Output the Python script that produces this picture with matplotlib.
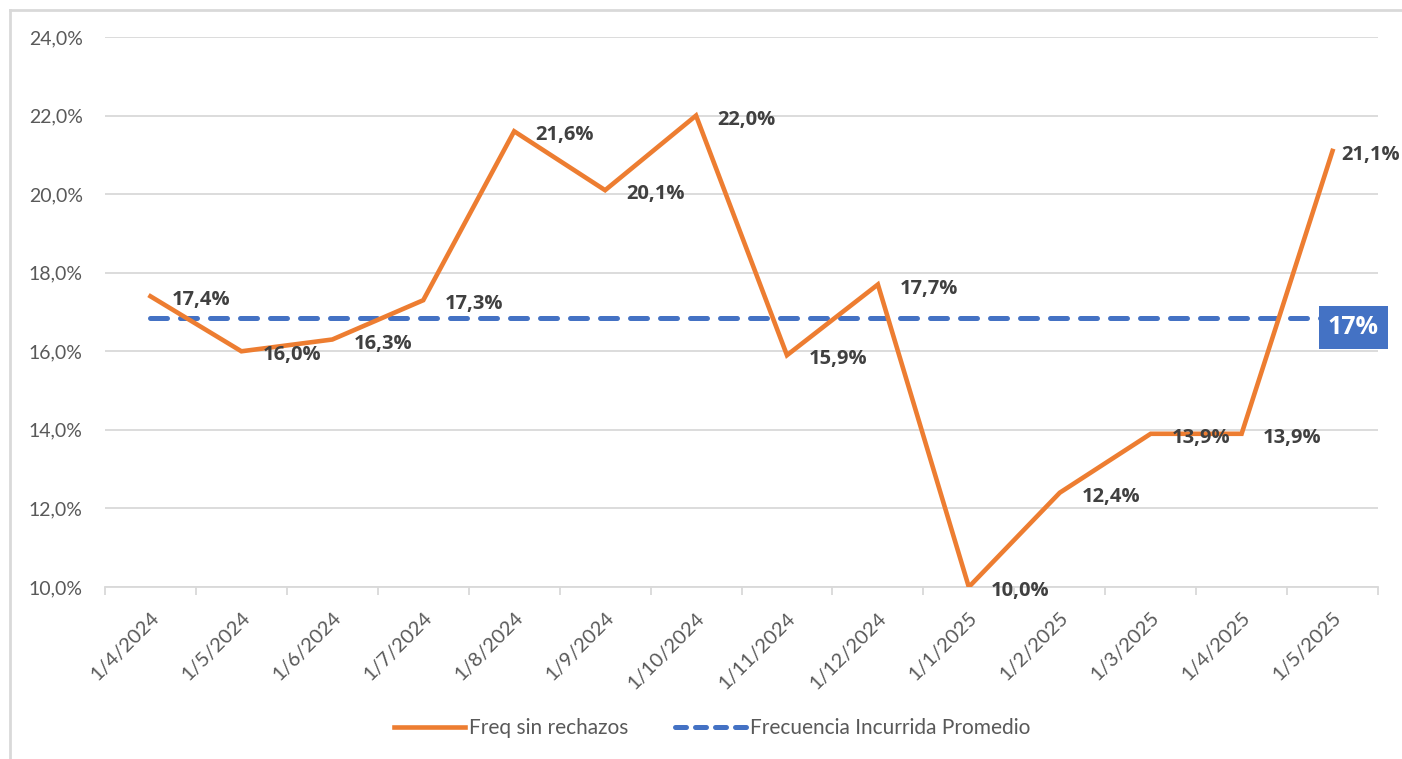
import numpy as np
import matplotlib.pyplot as plt
from matplotlib.lines import Line2D

fechas = ['1/4/2024', '1/5/2024', '1/6/2024', '1/7/2024', '1/8/2024', '1/9/2024',
          '1/10/2024', '1/11/2024', '1/12/2024', '1/1/2025', '1/2/2025', '1/3/2025',
          '1/4/2025', '1/5/2025']
freq = [17.4, 16.0, 16.3, 17.3, 21.6, 20.1, 22.0, 15.9, 17.7, 10.0, 12.4, 13.9, 13.9, 21.1]
promedio = 16.85
promedio_label = '17%'

orange = '#ED7D31'
blue = '#4472C4'
grey = '#595959'

fig = plt.figure(figsize=(14.02, 7.59), dpi=100)
ax = fig.add_axes([105/1402, 1-587/759, (1378-105)/1402, (587-37)/759])

x = np.arange(len(fechas))
ax.plot(x, [promedio]*len(x), color=blue, lw=3.6,
        ls=(0, (3.4, 2.6)), dash_capstyle='round', zorder=3)
ax.plot(x, freq, color=orange, lw=3.3, solid_joinstyle='miter', zorder=4)

for i, (xi, v) in enumerate(zip(x, freq)):
    # excel acerca la última etiqueta para que quepa
    dx = 6 if i == len(x) - 1 else 15.5
    ax.annotate(f'{v:.1f}%'.replace('.', ','), (xi, v), xytext=(dx, -3),
                textcoords='offset points', ha='left', va='center',
                fontsize=14.5, fontweight='bold', color='#404040',
                family='Open Sans', zorder=5)

ax.annotate(promedio_label, (x[-1], promedio), xytext=(15, -7),
            textcoords='offset points', ha='center', va='center',
            fontsize=18, fontweight='bold', color='white', family='Open Sans',
            bbox=dict(boxstyle='square,pad=0.36', fc=blue, ec='none'), zorder=6)

ax.set_xlim(-0.5, len(x) - 0.5)
ax.set_ylim(10, 24)
ax.set_yticks(np.arange(10, 25, 2))
ax.set_yticklabels([f'{t:.1f}%'.replace('.', ',') for t in np.arange(10, 25, 2)],
                   family='Lato', fontsize=14, color=grey)
ax.yaxis.grid(True, color='#D9D9D9', lw=1.3)
ax.set_axisbelow(True)
ax.tick_params(axis='y', length=0, pad=16)

ax.set_xticks(x)
ax.set_xticklabels(fechas, rotation=45, ha='right', va='top', rotation_mode='anchor',
                   family='Lato', fontsize=14.5, color=grey)
ax.tick_params(axis='x', length=0, pad=16)
ax.set_xticks(np.arange(-0.5, len(x)), minor=True)
ax.tick_params(axis='x', which='minor', length=6, color='#D9D9D9', width=1.3)

for s in ['top', 'right', 'left']:
    ax.spines[s].set_visible(False)
ax.spines['bottom'].set_color('#D9D9D9')
ax.spines['bottom'].set_linewidth(1.3)

handles = [Line2D([], [], color=orange, lw=3.3),
           Line2D([], [], color=blue, lw=3.6, ls=(0, (2.2, 1.8)), dash_capstyle='round')]
fig.legend(handles, ['Freq sin rechazos', 'Frecuencia Incurrida Promedio'],
           loc='center', bbox_to_anchor=(712/1402, 1-728/759), ncol=2, frameon=False,
           prop={'family': 'Lato', 'size': 15}, labelcolor=grey,
           handlelength=3.4, handletextpad=0.2, columnspacing=2.25)

# borde de la captura
fig.add_artist(Line2D([10/1402, 10/1402], [0, 1-10/759], color='#D9D9D9', lw=2))
fig.add_artist(Line2D([10/1402, 1], [1-10/759, 1-10/759], color='#D9D9D9', lw=2))

fig.savefig('out.png', dpi=100)
